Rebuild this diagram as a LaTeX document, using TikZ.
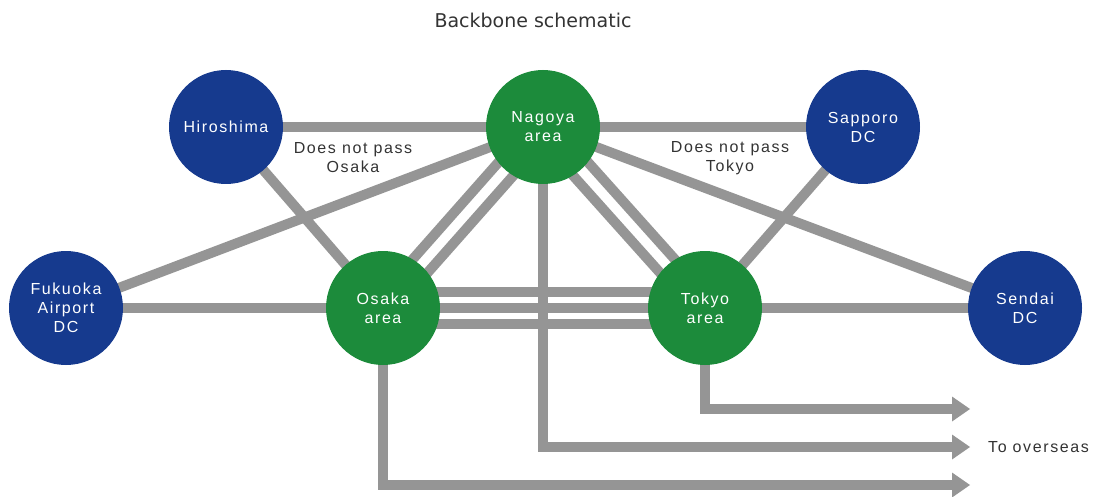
\documentclass[tikz,border=0pt]{standalone}
\usepackage{fontspec}
\usetikzlibrary{arrows.meta,calc}
\newfontfamily\labfont[LetterSpace=10]{Liberation Sans}
\newfontfamily\titlefont{DejaVu Sans}
\definecolor{dcblue}{HTML}{163A8E}
\definecolor{areagreen}{HTML}{1C8B3B}
\definecolor{linkgray}{HTML}{959595}
\definecolor{txtgray}{HTML}{333333}
\pgfdeclarelayer{bg}
\pgfsetlayers{bg,main}
\begin{document}
\begin{tikzpicture}[x=1pt,y=-1pt,
  site/.style={circle,minimum size=114pt,inner sep=0pt,text=white,align=center,font=\labfont\fontsize{16}{19}\selectfont},
  dc/.style={site,fill=dcblue},
  area/.style={site,fill=areagreen},
  link/.style={draw=linkgray,line width=10pt},
  uplink/.style={link,-{Triangle[length=18pt,width=25pt,line width=0pt]}},
  note/.style={text=txtgray,align=center,font=\labfont\fontsize{16}{19}\selectfont,inner sep=0pt}]
\useasboundingbox (0,0) rectangle (1100,497);

\node[text=txtgray,inner sep=0pt,font=\titlefont\fontsize{19}{22}\selectfont] (title) at (533,20) {Backbone schematic};

\node[dc]   (hir) at (226,127) {Hiroshima};
\node[area] (nag) at (543,127) {Nagoya\\area};
\node[dc]   (sap) at (863,127) {Sapporo\\DC};
\node[dc]   (fuk) at (66,308)  {Fukuoka\\Airport\\DC};
\node[area] (osa) at (383,308) {Osaka\\area};
\node[area] (tok) at (705,308) {Tokyo\\area};
\node[dc]   (sen) at (1025,308) {Sendai\\DC};

\node[note] (n1) at (353,158) {Does not pass\\Osaka};
\node[note] (n2) at (730,158) {Does not pass\\Tokyo};
\node[note,anchor=west] (ovs) at (988,447) {To overseas};

\coordinate (tipT) at (970,409);
\coordinate (tipN) at (970,447);
\coordinate (tipO) at (970,485);

\begin{pgfonlayer}{bg}
\draw[link] (hir.center) -- (nag.center);
\draw[link] (nag.center) -- (sap.center);
\draw[link] (hir.center) -- (osa.center);
\draw[link] (fuk.center) -- (nag.center);
\draw[link] (fuk.center) -- (osa.center);
\draw[link] ($(nag.center)!10pt!90:(osa.center)$) -- ($(osa.center)!10pt!-90:(nag.center)$);
\draw[link] ($(nag.center)!10pt!-90:(osa.center)$) -- ($(osa.center)!10pt!90:(nag.center)$);
\draw[link] ($(nag.center)!10pt!90:(tok.center)$) -- ($(tok.center)!10pt!-90:(nag.center)$);
\draw[link] ($(nag.center)!10pt!-90:(tok.center)$) -- ($(tok.center)!10pt!90:(nag.center)$);
\draw[link] (nag.center) -- (sen.center);
\draw[link] (sap.center) -- (tok.center);
\draw[link] (osa.center) -- (tok.center);
\draw[link] ($(osa.center)!16pt!90:(tok.center)$) -- ($(tok.center)!16pt!-90:(osa.center)$);
\draw[link] ($(osa.center)!16pt!-90:(tok.center)$) -- ($(tok.center)!16pt!90:(osa.center)$);
\draw[link] (tok.center) -- (sen.center);
\draw[uplink] (tok.center) |- (tipT);
\draw[uplink] (nag.center) |- (tipN);
\draw[uplink] (osa.center) |- (tipO);
\end{pgfonlayer}
\end{tikzpicture}
\end{document}
